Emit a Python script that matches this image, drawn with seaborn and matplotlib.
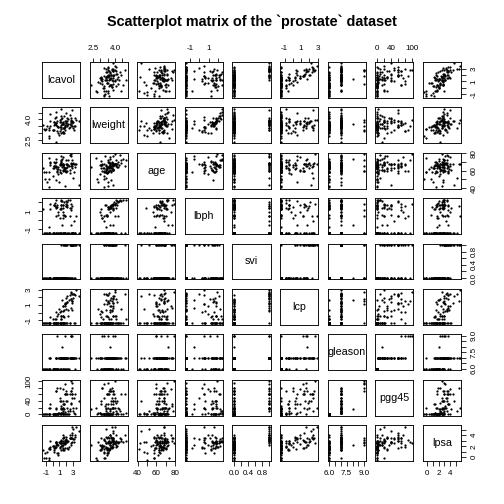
# Scatterplot matrix of the prostate data, in the style of R's pairs()

import pandas as pd
import seaborn as sns
import matplotlib.pyplot as plt
from matplotlib.ticker import FixedLocator, FixedFormatter

sns.set_theme(style="white")
plt.rcParams['font.family'] = ['Liberation Sans', 'DejaVu Sans']
plt.rcParams['text.color'] = 'black'

lcavol = [-0.580, -0.994, -0.511, -1.204, 0.751, -1.050, 0.737, 0.693, -0.777, 0.223,
          0.255, -1.347, 1.613, 1.477, 1.206, 1.541, -0.416, 2.288, -0.562, 0.182,
          1.147, 2.059, -0.545, 1.782, 0.385, 1.447, 0.513, -0.400, 1.040, 2.410,
          0.285, 0.182, 1.275, 0.010, -0.010, 1.308, 1.423, 0.457, 2.661, 0.798,
          0.621, 1.442, 0.582, 1.772, 1.486, 1.664, 2.728, 1.163, 1.746, 1.221,
          1.092, 1.660, 0.513, 2.127, 3.154, 1.267, 0.975, 0.464, 0.542, 1.061,
          0.457, 1.997, 2.776, 2.035, 2.073, 1.459, 2.023, 2.198, -0.446, 1.194,
          1.864, 1.160, 1.215, 1.839, 2.999, 3.141, 2.011, 2.538, 2.648, 2.779,
          1.468, 2.514, 2.613, 2.678, 1.562, 3.303, 2.024, 1.732, 2.808, 1.562,
          3.246, 2.533, 2.830, 3.821, 2.907, 2.883, 3.472]
lweight = [2.769, 3.320, 2.691, 3.283, 3.432, 3.229, 3.474, 3.540, 3.540, 3.245,
           3.604, 3.599, 3.023, 2.998, 3.442, 3.061, 3.516, 3.649, 3.268, 3.825,
           3.419, 3.501, 3.376, 3.452, 3.667, 3.125, 3.720, 3.866, 3.129, 3.376,
           4.090, 3.804, 3.037, 3.268, 3.217, 4.120, 3.657, 2.375, 4.085, 3.013,
           3.142, 3.683, 3.866, 3.897, 3.409, 3.393, 3.995, 4.035, 3.498, 3.568,
           3.994, 4.235, 3.634, 4.121, 3.516, 4.280, 2.865, 3.765, 4.178, 3.851,
           4.525, 3.720, 3.525, 3.917, 3.623, 3.836, 3.878, 4.051, 4.409, 4.780,
           3.593, 3.341, 3.825, 3.237, 3.849, 3.264, 4.434, 4.355, 3.582, 3.823,
           3.070, 3.474, 3.889, 3.838, 3.710, 3.519, 3.732, 3.369, 4.718, 3.695,
           4.102, 3.678, 3.876, 3.897, 3.396, 3.774, 3.975]
age = [50, 58, 74, 58, 62, 50, 64, 58, 47, 63, 65, 63, 63, 67, 57, 66, 70, 66, 41, 70,
       59, 60, 59, 63, 69, 68, 65, 67, 67, 65, 65, 65, 71, 54, 63, 64, 73, 64, 68, 56,
       60, 68, 62, 61, 66, 61, 79, 68, 43, 70, 68, 64, 64, 68, 59, 66, 47, 49, 70, 61,
       73, 63, 72, 66, 64, 61, 68, 72, 69, 72, 60, 77, 69, 60, 69, 68, 72, 78, 69, 63,
       66, 57, 77, 65, 60, 64, 58, 62, 65, 76, 68, 61, 68, 44, 52, 68, 68]
lbph = [-1.386, -1.386, -1.386, -1.386, -1.386, -1.386, 0.615, 1.537, -1.386, -1.386,
        -1.386, 1.267, -1.386, -1.386, -1.386, -1.386, 1.244, -1.386, -1.386, 1.658,
        -1.386, 1.475, -0.799, 0.438, 1.599, 0.300, -1.386, 1.816, 0.223, -1.386,
        1.963, 1.705, 1.267, -1.386, -1.386, 2.171, -0.580, -1.386, 1.374, 0.936,
        -1.386, -1.386, 1.714, -1.386, 1.749, 0.615, 1.879, 1.714, -1.386, 1.374,
        -1.386, 2.073, 1.493, 1.766, -1.386, 2.122, -1.386, 1.423, 0.438, 1.295,
        2.326, 1.619, -1.386, 2.008, -1.386, 1.322, 1.783, 2.308, -1.386, 2.326,
        -1.386, 1.749, -1.386, 0.438, -1.386, -0.051, 2.122, 2.326, -1.386, -1.386,
        0.560, 0.438, -0.528, 1.115, 1.696, -1.386, 1.639, -1.386, -1.386, 0.936,
        -1.386, 1.348, -1.386, -1.386, -1.386, 1.558, 0.438]
svi = [0, 0, 0, 0, 0, 0, 0, 0, 0, 0, 0, 0, 0, 0, 0, 0, 0, 0, 0, 0,
       0, 0, 0, 0, 0, 0, 0, 0, 0, 0, 0, 0, 0, 0, 0, 0, 0, 0, 1, 0,
       0, 0, 0, 0, 0, 0, 1, 0, 0, 0, 0, 0, 0, 0, 0, 0, 0, 0, 0, 0,
       0, 1, 0, 1, 0, 0, 0, 0, 0, 0, 1, 0, 1, 1, 1, 1, 0, 0, 1, 0,
       0, 0, 1, 0, 0, 1, 0, 1, 1, 1, 0, 1, 1, 1, 1, 1, 1]
lcp = [-1.386, -1.386, -1.386, -1.386, -1.386, -1.386, -1.386, -1.386, -1.386, -1.386,
       -1.386, -1.386, -0.598, -1.386, -0.431, -1.386, -0.598, 0.372, -1.386, -1.386,
       -1.386, 1.348, -1.386, 1.179, -1.386, -1.386, -0.799, -1.386, 0.049, 1.619,
       -0.799, -1.386, -1.386, -1.386, -0.799, -1.386, 1.658, -1.386, 1.833, -0.163,
       -1.386, -1.386, -0.431, 0.811, -0.431, -1.386, 2.657, -0.431, -1.386, -0.799,
       -1.386, -1.386, 0.049, 1.447, -1.386, -1.386, 0.501, -1.386, -1.386, -1.386,
       -1.386, 1.910, 1.558, 2.110, -1.386, -0.431, 1.322, -0.431, -1.386, -0.799,
       1.322, -1.386, 0.223, 1.179, 1.910, 2.420, 0.501, -1.386, 2.584, 0.372,
       0.223, 2.327, 0.560, 1.749, 0.811, 2.327, -1.386, 0.300, 2.464, 0.811,
       -1.386, -1.386, 1.322, 2.169, 2.464, 1.558, 2.904]
gleason = [6, 6, 7, 6, 6, 6, 6, 6, 6, 6, 6, 6, 7, 7, 7, 6, 7, 6, 6, 6,
           6, 7, 6, 7, 6, 6, 7, 7, 7, 6, 6, 6, 6, 6, 6, 7, 8, 7, 7, 7,
           9, 7, 6, 7, 7, 7, 9, 7, 6, 6, 7, 6, 7, 7, 7, 7, 7, 6, 7, 7,
           6, 7, 9, 7, 6, 7, 7, 7, 6, 7, 7, 7, 7, 9, 7, 7, 7, 7, 7, 7,
           7, 7, 7, 9, 7, 7, 6, 7, 7, 7, 6, 7, 7, 7, 7, 7, 7]
pgg45 = [0, 0, 20, 0, 0, 0, 0, 0, 0, 0, 0, 0, 30, 5, 5, 0, 30, 0, 0, 0,
         0, 20, 0, 60, 0, 0, 70, 20, 80, 0, 0, 0, 0, 0, 0, 5, 15, 15, 35, 5,
         80, 10, 0, 6, 20, 15, 100, 40, 0, 0, 50, 0, 70, 40, 5, 15, 4, 0, 20, 40,
         0, 40, 95, 60, 0, 20, 70, 10, 0, 5, 60, 25, 20, 90, 20, 50, 60, 10, 70, 50,
         40, 60, 30, 70, 30, 60, 0, 30, 60, 75, 0, 15, 60, 40, 10, 80, 20]
lpsa = [-0.431, -0.163, -0.163, -0.163, 0.372, 0.765, 0.765, 0.854, 1.047, 1.047,
        1.267, 1.267, 1.267, 1.348, 1.399, 1.447, 1.470, 1.493, 1.558, 1.599,
        1.639, 1.658, 1.696, 1.714, 1.732, 1.766, 1.800, 1.816, 1.848, 1.895,
        1.924, 2.008, 2.008, 2.022, 2.048, 2.086, 2.158, 2.192, 2.214, 2.277,
        2.298, 2.308, 2.327, 2.375, 2.522, 2.553, 2.569, 2.569, 2.592, 2.592,
        2.657, 2.678, 2.684, 2.691, 2.705, 2.718, 2.788, 2.794, 2.806, 2.812,
        2.842, 2.854, 2.854, 2.882, 2.882, 2.888, 2.920, 2.963, 2.963, 2.973,
        3.013, 3.037, 3.056, 3.075, 3.275, 3.338, 3.393, 3.436, 3.458, 3.513,
        3.516, 3.531, 3.565, 3.571, 3.588, 3.631, 3.680, 3.712, 3.984, 3.994,
        4.030, 4.130, 4.385, 4.684, 5.143, 5.478, 5.583]

prostate = pd.DataFrame({
    'lcavol': lcavol, 'lweight': lweight, 'age': age, 'lbph': lbph, 'svi': svi,
    'lcp': lcp, 'gleason': gleason, 'pgg45': pgg45, 'lpsa': lpsa
})

# R "pretty" ticks; labels R drew (others skipped for overlap)
tick_pos = {
    'lcavol': [-1, 0, 1, 2, 3],
    'lweight': [2.5, 3.0, 3.5, 4.0, 4.5],
    'age': [40, 50, 60, 70, 80],
    'lbph': [-1, 0, 1, 2],
    'svi': [0.0, 0.2, 0.4, 0.6, 0.8, 1.0],
    'lcp': [-1, 0, 1, 2, 3],
    'gleason': [6.0, 6.5, 7.0, 7.5, 8.0, 8.5, 9.0],
    'pgg45': [0, 20, 40, 60, 80, 100],
    'lpsa': [0, 1, 2, 3, 4, 5],
}
tick_lab = {
    'lcavol': ['-1', '', '1', '', '3'],
    'lweight': ['2.5', '', '', '4.0', ''],
    'age': ['40', '', '60', '', '80'],
    'lbph': ['-1', '', '1', ''],
    'svi': ['0.0', '', '0.4', '', '0.8', ''],
    'lcp': ['-1', '', '1', '', '3'],
    'gleason': ['6.0', '', '', '7.5', '', '', '9.0'],
    'pgg45': ['0', '', '40', '', '', '100'],
    'lpsa': ['0', '', '2', '', '4', ''],
}

cols = list(prostate.columns)
n = len(cols)

g = sns.PairGrid(prostate, height=7 / n, despine=False)
g.map_offdiag(sns.scatterplot, s=5, color='black', linewidth=0)

fig = g.figure
fig.set_size_inches(7, 7)
fig.subplots_adjust(left=42 / 504, right=461 / 504, bottom=1 - 461 / 504,
                    top=1 - 62 / 504, wspace=0.246, hspace=0.268)

for k, var in enumerate(cols):
    lo, hi = prostate[var].min(), prostate[var].max()
    pad = 0.04 * (hi - lo)
    g.axes[0, k].set_xlim(lo - pad, hi + pad)
    g.axes[k, 0].set_ylim(lo - pad, hi + pad)
    g.axes[0, k].xaxis.set_major_locator(FixedLocator(tick_pos[var]))
    g.axes[0, k].xaxis.set_major_formatter(FixedFormatter(tick_lab[var]))
    g.axes[k, 0].yaxis.set_major_locator(FixedLocator(tick_pos[var]))
    g.axes[k, 0].yaxis.set_major_formatter(FixedFormatter(tick_lab[var]))

for i in range(n):
    for j in range(n):
        ax = g.axes[i, j]
        ax.set_xlabel('')
        ax.set_ylabel('')
        ax.grid(False)
        for sp in ax.spines.values():
            sp.set_visible(True)
            sp.set_color('black')
            sp.set_linewidth(0.9)
        ax.tick_params(which='both', direction='out', length=4.5, width=0.8,
                       pad=5, labelsize=8, color='black', labelcolor='black',
                       bottom=False, top=False, left=False, right=False,
                       labelbottom=False, labeltop=False,
                       labelleft=False, labelright=False)
        ax.tick_params(axis='y', labelrotation=90)
        if i == 0 and j % 2 == 1:
            ax.tick_params(axis='x', top=True, labeltop=True)
        if i == n - 1 and j % 2 == 0:
            ax.tick_params(axis='x', bottom=True, labelbottom=True)
        if j == 0 and i % 2 == 1:
            ax.tick_params(axis='y', left=True, labelleft=True)
        if j == n - 1 and i % 2 == 0:
            ax.tick_params(axis='y', right=True, labelright=True)
        for lbl in ax.get_yticklabels():
            lbl.set_va('center')
        if i == j:
            ax.text(0.5, 0.5, cols[i], transform=ax.transAxes,
                    ha='center', va='center', fontsize=10.8, color='black')

fig.suptitle('Scatterplot matrix of the `prostate` dataset', x=0.5, y=1 - 22 / 504,
             fontsize=14.4, fontweight='bold', va='center', color='black')

fig.savefig('out.png', dpi=72)
